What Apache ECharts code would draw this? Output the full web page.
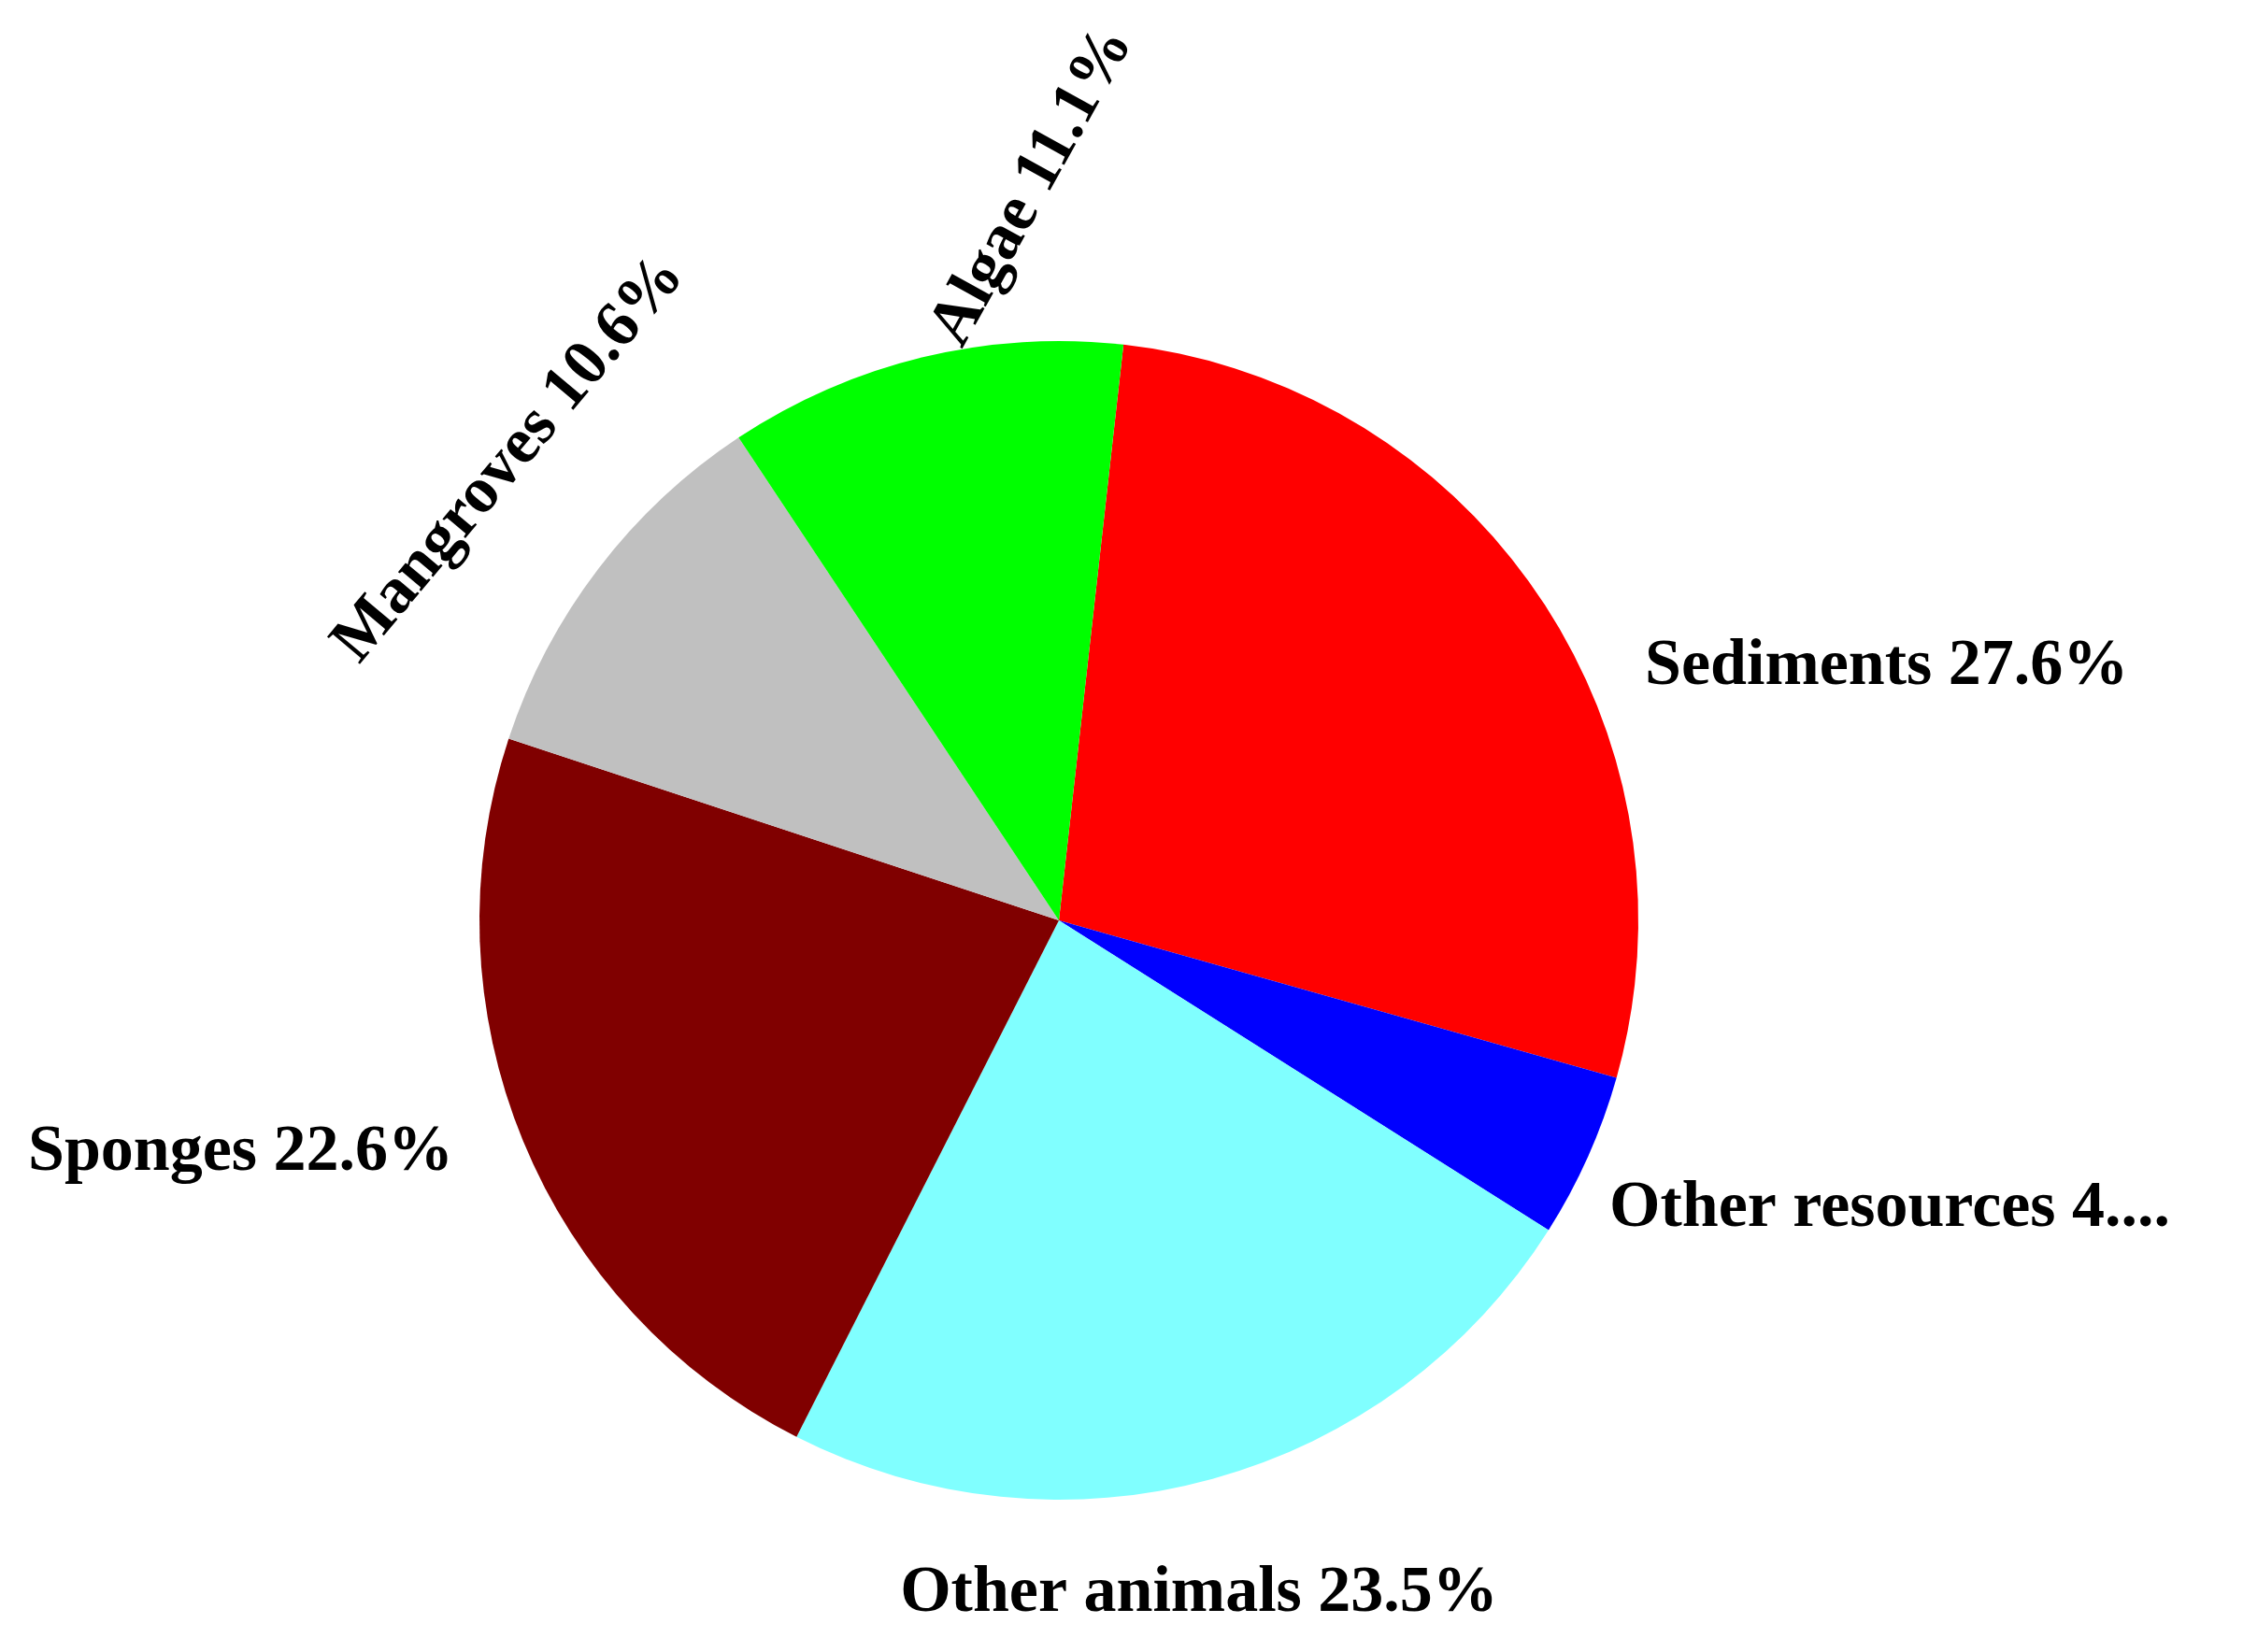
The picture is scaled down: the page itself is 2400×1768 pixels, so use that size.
<!DOCTYPE html>
<html>
<head>
<meta charset="utf-8">
<script src="https://cdn.jsdelivr.net/npm/echarts@6/dist/echarts.min.js"></script>
<style>html,body{margin:0;padding:0;background:#fff}#chart{width:2400px;height:1768px}</style>
</head>
<body>
<div id="chart"></div>
<script>
var categories = ['Sediments', 'Other resources', 'Other animals', 'Sponges', 'Mangroves', 'Algae'];
var values = [27.6, 4.6, 23.5, 22.6, 10.6, 11.1];
var colors = ['#ff0000', '#0000ff', '#80ffff', '#800000', '#c0c0c0', '#00ff00'];

// label placement (pixels), matching the original figure's hand-placed labels
var labelSpots = [
    { x: 1760, y: 714, align: 'left', rotate: 0 },
    { x: 1722, y: 1294, align: 'left', rotate: 0 },
    { x: 1283, y: 1706, align: 'center', rotate: 0 },
    { x: 30, y: 1234, align: 'left', rotate: 0 },
    { x: 545, y: 492, align: 'center', rotate: 50 },
    { x: 1105, y: 200, align: 'center', rotate: 61 }
];

var myChart = echarts.init(document.getElementById('chart'));

var data = categories.map(function (name, i) {
    return { name: name, value: values[i], itemStyle: { color: colors[i] } };
});

var option = {
    animation: false,
    series: [{
        type: 'pie',
        center: [1133, 985],
        radius: 620,
        startAngle: 83.6,
        clockwise: true,
        data: data,
        label: {
            show: true,
            position: 'outside',
            formatter: function (p) { return p.name + ' ' + p.value.toFixed(1) + '%'; },
            fontFamily: 'Liberation Serif',
            fontWeight: 'bold',
            fontSize: 70,
            color: '#000'
        },
        labelLine: { show: false },
        labelLayout: function (p) {
            var s = labelSpots[p.dataIndex];
            return { x: s.x, y: s.y, align: s.align, verticalAlign: 'middle', rotate: s.rotate };
        }
    }]
};

myChart.setOption(option);
</script>
</body>
</html>
